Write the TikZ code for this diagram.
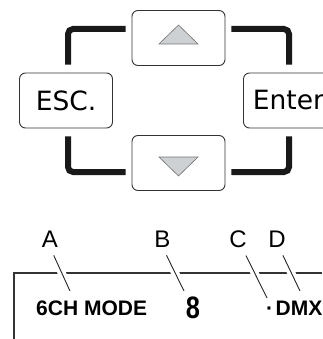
\documentclass[tikz,border=0pt]{standalone}
\usepackage{fontspec}
\setmainfont{Liberation Sans}
\newfontfamily\keyfont{DejaVu Sans}
\usepackage{tikz}

\definecolor{trigray}{HTML}{CDD1D4}

\begin{document}
\begin{tikzpicture}[x=1pt, y=-1pt,
        key/.style={draw=black!80, line width=0.9pt, rounded corners=6pt, minimum width=93pt, minimum height=55pt, inner sep=0pt, font=\keyfont\fontsize{26.5}{26.5}\selectfont},
        loop/.style={line width=6pt, draw=black!90, rounded corners=5pt},
        tri/.style={fill=trigray, draw=black!55, line width=0.6pt, line join=miter},
        tag/.style={inner sep=0pt, anchor=base, font=\fontsize{24}{24}\selectfont},
        leader/.style={draw=black!85, line width=0.9pt, preaction={draw=white, line width=8pt}}]
        \useasboundingbox (0,0) rectangle (322,339);

        % keypad
        \node [key] (up) at (178.5, 38) {};
        \node [key] (down) at (178.5, 163) {};
        \node [key] (esc) at (66, 100.5) {ESC.};
        \node [key] (enter) at (290, 100.5) {\hspace{-3pt}Enter};

        \draw [tri] (up.center) ++(0,-13) -- ++(19.5,19) -- ++(-39,0) -- cycle;
        \draw [tri] (down.center) ++(0,13) -- ++(19.5,-19) -- ++(-39,0) -- cycle;

        \draw [loop, shorten <=6pt, shorten >=8pt] ([yshift=9pt]up.west) -| ([xshift=2pt]esc.north);
        \draw [loop, shorten <=6pt, shorten >=8pt] ([yshift=9pt]up.east) -| ([xshift=-1pt]enter.north);
        \draw [loop, shorten <=6pt, shorten >=8pt] ([yshift=-9pt]down.west) -| ([xshift=2pt]esc.south);
        \draw [loop, shorten <=6pt, shorten >=8pt] ([yshift=-9pt]down.east) -| ([xshift=-1pt]enter.south);

        % display
        \draw [black!80, line width=2pt] (14, 339) -- (14, 273) -- (322, 273);

        \node [tag] (la) at (50, 247) {A};
        \node [tag] (lb) at (162.5, 247) {B};
        \node [tag] (lc) at (238, 247) {C};
        \node [tag] (ld) at (277, 247) {D};

        \coordinate (a tip) at (70, 291);
        \coordinate (b tip) at (184, 291);
        \coordinate (c tip) at (267, 298);
        \coordinate (d tip) at (300, 291);

        \draw [leader, shorten <=9pt] (la.south) -- (a tip);
        \draw [leader, shorten <=9pt] (lb.south) -- (b tip);
        \draw [leader, shorten <=9pt] ([xshift=4pt]lc.south) -- (c tip);
        \draw [leader, shorten <=9pt] ([xshift=2pt]ld.south) -- (d tip);

        \node [inner sep=0pt, anchor=base west, font=\bfseries\fontsize{21}{21}\selectfont] (mode) at (36, 315) {6CH MODE};
        \node [inner sep=0pt, anchor=base, xscale=0.82, font=\bfseries\fontsize{31}{31}\selectfont] (value) at (193, 318) {8};
        \node [inner sep=0pt, anchor=base west, font=\bfseries\fontsize{21}{21}\selectfont] (dmx) at (266, 315) {·\hspace{2.5pt}DMX};
      \end{tikzpicture}
\end{document}
